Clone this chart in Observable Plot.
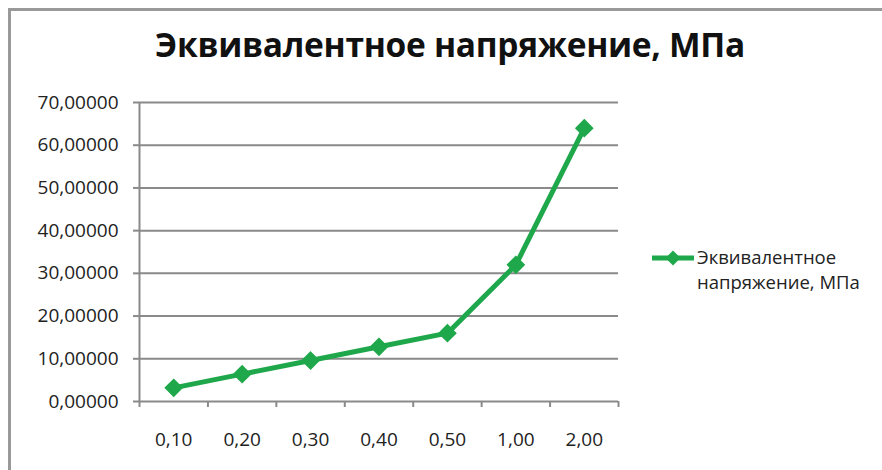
<!DOCTYPE html>
<html><head><meta charset="utf-8">
<script src="https://cdn.jsdelivr.net/npm/d3@7"></script>
<script src="https://cdn.jsdelivr.net/npm/@observablehq/plot@0.6"></script>
<style>
html,body{margin:0;padding:0;background:#fff;}
#wrap{position:relative;width:882px;height:470px;overflow:hidden;font-family:"Open Sans",sans-serif;}
#frame{position:absolute;left:8px;top:8px;width:900px;height:500px;border-left:3px solid #999;border-top:3px solid #999;}
#title{position:absolute;left:0;top:21px;width:900px;text-align:center;font-size:33.5px;font-weight:bold;color:#111;letter-spacing:-0.3px;}
#legend{position:absolute;left:652px;top:244px;font-size:18.5px;color:#222;line-height:25px;}
#chart{position:absolute;left:0;top:0;}
</style></head>
<body><div id="wrap"><div id="frame"></div><div id="title">Эквивалентное напряжение, МПа</div><div id="chart"></div>
<div id="legend"><svg width="44" height="16" style="position:absolute;left:0;top:6px"><line x1="0" y1="8" x2="42" y2="8" stroke="#1fa84b" stroke-width="5"/><path d="M21,0.5 L28.5,8 L21,15.5 L13.5,8 Z" fill="#1fa84b"/></svg><div style="margin-left:45px">Эквивалентное<br>напряжение, МПа</div></div>
</div>
<script>
const categories = ["0,10","0,20","0,30","0,40","0,50","1,00","2,00"];
const values = [3.2, 6.4, 9.6, 12.8, 16.0, 32.0, 64.0];
const yTicks = [0,10,20,30,40,50,60,70];
const seriesName = "Эквивалентное напряжение, МПа";
const data = categories.map((c,i)=>({cat:c, i:i+0.5, v:values[i]}));
const centers = categories.map((c,i)=>i+0.5);
const edges = d3.range(categories.length+1);
const green = "#1fa84b";
const grid = "#8a8a8a";
const chart = Plot.plot({
  width: 882, height: 470,
  marginLeft: 139, marginRight: 264, marginTop: 102, marginBottom: 69,
  style:{fontFamily:"'Open Sans',sans-serif", fontSize:"19px", color:"#222", background:"transparent"},
  x:{type:"linear", domain:[0,categories.length], axis:null, label:null},
  y:{domain:[0,70], axis:null, label:null},
  marks:[
    Plot.gridY(yTicks, {stroke:grid, strokeOpacity:1, strokeWidth:2}),
    Plot.ruleX([0], {stroke:grid, strokeWidth:2}),
    Plot.axisY(yTicks, {anchor:"left", label:null, tickSize:6, tickPadding:15, stroke:grid, strokeWidth:2, fill:"#222",
      tickFormat:d=>d3.format(".5f")(d).replace(".",",")}),
    Plot.axisX(edges, {anchor:"bottom", label:null, tickSize:6, stroke:grid, strokeWidth:2, tickFormat:()=>""}),
    Plot.axisX(centers, {anchor:"bottom", label:null, tickSize:0, tickPadding:31, fill:"#222",
      tickFormat:(d)=>categories[Math.floor(d)]}),
    Plot.line(data, {x:"i", y:"v", stroke:green, strokeWidth:5}),
    Plot.dot(data, {x:"i", y:"v", symbol:"diamond2", r:7.5, fill:green, stroke:green})
  ]
});
document.getElementById("chart").appendChild(chart);
</script>
</body></html>
